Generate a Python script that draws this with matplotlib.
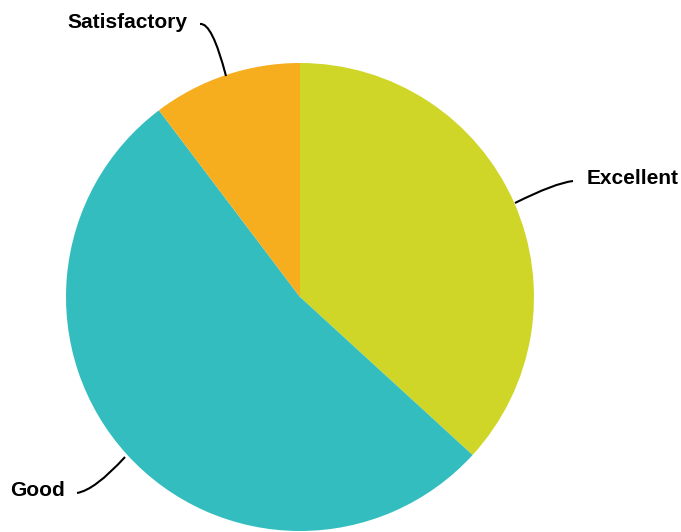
import matplotlib
matplotlib.use("Agg")
import matplotlib.pyplot as plt
from matplotlib.path import Path
from matplotlib.patches import PathPatch

categories = ["Excellent", "Good", "Satisfactory"]
values = [36.8, 52.9, 10.3]
colors = ["#CFD628", "#33BDBF", "#F6AE1F"]

W, H = 681, 532
fig = plt.figure(figsize=(W / 100, H / 100), dpi=100)
ax = fig.add_axes([0, 0, 1, 1])
ax.set_xlim(0, W)
ax.set_ylim(0, H)
ax.set_aspect("equal")
ax.axis("off")

cx, cy, r = 300, H - 297, 234
ax.pie(values, colors=colors, startangle=90, counterclock=False,
       center=(cx, cy), radius=r, wedgeprops=dict(linewidth=0),
       frame=True)
ax.set_xlim(0, W)
ax.set_ylim(0, H)
ax.axis("off")

def Y(y):
    return H - y

leaders = {
    "Satisfactory": [(226, 76), (212, 22), (200, 24)],
    "Excellent": [(515, 203), (555, 183), (573, 181)],
    "Good": [(125, 457), (95, 490), (77, 493)],
}
labels = {
    "Satisfactory": (187, 23, "right"),
    "Excellent": (587, 179, "left"),
    "Good": (65, 491, "right"),
}
for name in categories:
    pts = [(x, Y(y)) for x, y in leaders[name]]
    path = Path(pts, [Path.MOVETO, Path.CURVE3, Path.CURVE3])
    ax.add_patch(PathPatch(path, facecolor="none", edgecolor="black", lw=1.5))
    lx, ly, ha = labels[name]
    ax.text(lx, Y(ly), name, ha=ha, va="center", fontsize=15,
            fontweight="bold", family="Liberation Sans", color="black")

fig.savefig("out.png", dpi=100)
